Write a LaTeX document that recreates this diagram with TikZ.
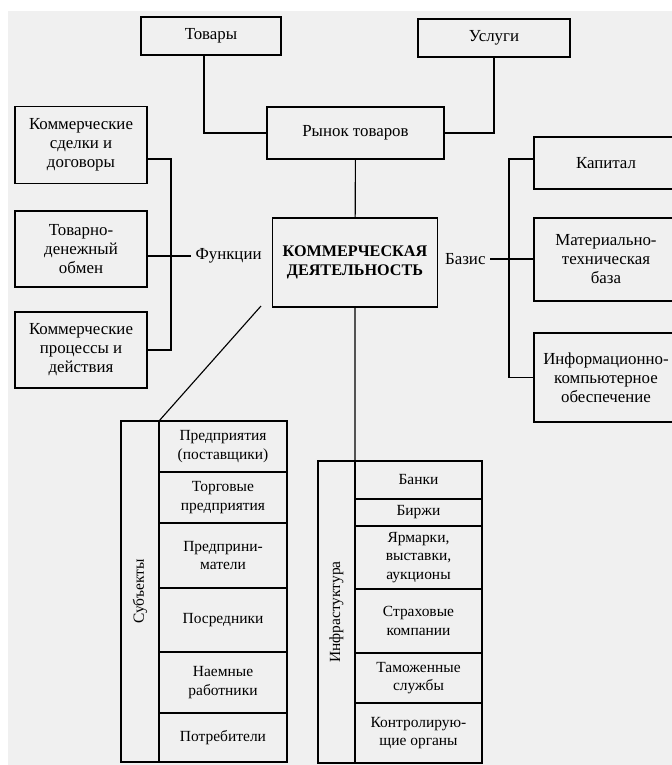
\documentclass[tikz,border=0pt]{standalone}
\usepackage{fontspec}
\setmainfont{Liberation Serif}
\usetikzlibrary{positioning}

\begin{document}
\begin{tikzpicture}[x=0.025cm,y=-0.025cm]
\def\px{0.025cm}
\colorlet{paper color}{black!6}
\tikzset{
  box/.style={draw,line width=1pt,outer sep=0pt,inner sep=2pt,align=center,
    font=\fontsize{12}{13.5}\selectfont},
  cell/.style={box,minimum width=128*\px,font=\fontsize{11}{13}\selectfont},
  icell/.style={cell,minimum width=127*\px},
  core/.style={box,font=\fontsize{11.5}{13}\selectfont\bfseries},
  tag/.style={inner sep=3pt,font=\fontsize{12}{13.5}\selectfont},
  link/.style={line width=0.8pt}
}

%PAPER
\useasboundingbox (0,0) rectangle (672,765);
\fill[paper color] (8,11) rectangle (672,765);

%TOP
\node[box,minimum width=140*\px,minimum height=38*\px] (GOODS) at (211,36) {Товары};
\node[box,minimum width=152*\px,minimum height=38*\px] (SERVICES) at (494,38) {Услуги};
\node[box,minimum width=177*\px,minimum height=52*\px] (MARKET) at (355.5,133) {Рынок товаров};

%CENTER
\node[core,minimum width=165*\px,minimum height=89*\px] (CORE) at (355,262.5) {КОММЕРЧЕСКАЯ\\ДЕЯТЕЛЬНОСТЬ};

%FUNCTIONS
\node[box,minimum width=132*\px,minimum height=77*\px] (F1) at (81,145) {Коммерческие\\сделки и\\договоры};
\node[box,minimum width=132*\px,minimum height=76*\px] (F2) at (81,249) {Товарно-\\денежный\\обмен};
\node[box,minimum width=132*\px,minimum height=76*\px] (F3) at (81,350) {Коммерческие\\процессы и\\действия};
\node[tag,anchor=west] (FUNC) at (191,256) {Функции};
\coordinate (FJ) at (171,256);

%BASIS
\node[box,minimum width=144*\px,minimum height=52*\px] (R1) at (606,163) {Капитал};
\node[box,minimum width=144*\px,minimum height=83*\px] (R2) at (606,259.5) {Материально-\\техническая\\база};
\node[box,minimum width=144*\px,minimum height=89*\px] (R3) at (606,377.5) {Информационно-\\компьютерное\\обеспечение};
\node[tag,anchor=east] (BASE) at (490,259) {Базис};
\coordinate (BJ) at (509,259);

%SUBJECTS
\node[box,minimum width=38*\px,minimum height=341*\px] (SUBJ) at (140,591.5) {};
\node[tag,rotate=90,font=\fontsize{11}{13}\selectfont] (SUBJTXT) at (SUBJ) {Субъекты};
\node[cell,minimum height=51*\px] (S1) at (223,446.5) {Предприятия\\(поставщики)};
\node[cell,minimum height=51*\px] (S2) [below=0pt of S1] {Торговые\\предприятия};
\node[cell,minimum height=65*\px] (S3) [below=0pt of S2] {Предприни-\\матели};
\node[cell,minimum height=64*\px] (S4) [below=0pt of S3] {Посредники};
\node[cell,minimum height=61*\px] (S5) [below=0pt of S4] {Наемные\\работники};
\node[cell,minimum height=49*\px] (S6) [below=0pt of S5] {Потребители};

%INFRASTRUCTURE
\node[box,minimum width=37*\px,minimum height=302*\px] (INFRA) at (336.5,612) {};
\node[tag,rotate=90,font=\fontsize{11}{13}\selectfont] (INFRATXT) at (INFRA) {Инфрастуктура};
\node[icell,minimum height=38*\px] (I1) at (418.5,480) {Банки};
\node[icell,minimum height=27*\px] (I2) [below=0pt of I1] {Биржи};
\node[icell,minimum height=63*\px] (I3) [below=0pt of I2] {Ярмарки,\\выставки,\\аукционы};
\node[icell,minimum height=64*\px] (I4) [below=0pt of I3] {Страховые\\компании};
\node[icell,minimum height=50*\px] (I5) [below=0pt of I4] {Таможенные\\службы};
\node[icell,minimum height=60*\px] (I6) [below=0pt of I5] {Контролирую-\\щие органы};

%PATHS
\draw[link] ([xshift=-7*\px]GOODS.south) |- (MARKET.west);
\draw[link] (SERVICES.south) |- (MARKET.east);
\draw[link] (MARKET) -- (CORE);
%%functions
\draw[link] ([yshift=-14*\px]F1.east) -| (FJ) |- (F3.east);
\draw[link] (F2.east |- FUNC.west) -- (FUNC.west);
%%basis
\draw[link] ([yshift=4*\px]R1.west) -| (BJ) |- (R3.west);
\draw[link] (BASE.east) -- (BASE.east -| R2.west);
%%subjects, infrastructure
\coordinate (DIAG) at (261,306);
\draw[link] (DIAG) -- (SUBJ.north east);
\draw[link] (CORE.south) -- (INFRA.north east);

\end{tikzpicture}
\end{document}
